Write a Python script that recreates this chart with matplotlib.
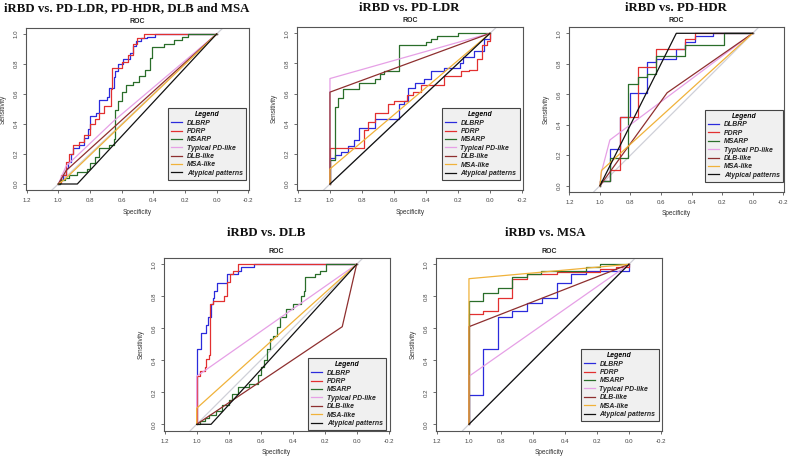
import matplotlib
matplotlib.use("Agg")
import matplotlib.pyplot as plt
from matplotlib.lines import Line2D

plt.rcParams['font.family'] = ['Liberation Sans', 'DejaVu Sans']

# legend / curve names and colours
labels = ['DLBRP', 'PDRP', 'MSARP', 'Typical PD-like', 'DLB-like', 'MSA-like', 'Atypical patterns']
colors = ['#2b2bdc', '#e23030', '#2a6e2a', '#e6a0e6', '#8e2f2f', '#f0b23a', '#111111']
step_curves = [True, True, True, False, False, False, False]

titles = ['iRBD vs. PD-LDR, PD-HDR, DLB and MSA', 'iRBD vs. PD-LDR', 'iRBD vs. PD-HDR',
          'iRBD vs. DLB', 'iRBD vs. MSA']

x_ticks = [1.2, 1.0, 0.8, 0.6, 0.4, 0.2, 0.0, -0.2]
x_tick_labels = ['1.2', '1.0', '0.8', '0.6', '0.4', '0.2', '0.0', '-0.2']
y_ticks = [0.0, 0.2, 0.4, 0.6, 0.8, 1.0]
y_tick_labels = ['0.0', '0.2', '0.4', '0.6', '0.8', '1.0']

# (specificity, sensitivity) points, panel 1: all groups
p1_dlbrp = [(1.0, 0.0), (0.99, 0.03), (0.97, 0.06), (0.95, 0.11), (0.94, 0.15), (0.92, 0.20), (0.91, 0.24),
            (0.87, 0.26), (0.84, 0.31), (0.81, 0.37), (0.80, 0.45), (0.76, 0.47), (0.74, 0.56), (0.69, 0.58),
            (0.68, 0.64), (0.65, 0.71), (0.64, 0.75), (0.62, 0.80), (0.59, 0.83), (0.55, 0.87), (0.53, 0.92),
            (0.51, 0.95), (0.48, 0.97), (0.44, 0.98), (0.39, 1.0), (0.0, 1.0)]
p1_pdrp = [(1.0, 0.0), (1.0, 0.01), (0.98, 0.06), (0.95, 0.15), (0.93, 0.20), (0.91, 0.26), (0.87, 0.28),
           (0.84, 0.33), (0.80, 0.40), (0.77, 0.43), (0.74, 0.47), (0.71, 0.52), (0.67, 0.63), (0.66, 0.77),
           (0.60, 0.81), (0.56, 0.86), (0.53, 0.93), (0.50, 0.97), (0.46, 1.0), (0.0, 1.0)]
p1_msarp = [(1.0, 0.0), (0.99, 0.03), (0.96, 0.04), (0.93, 0.06), (0.88, 0.08), (0.82, 0.10), (0.80, 0.14),
            (0.77, 0.18), (0.74, 0.24), (0.68, 0.26), (0.65, 0.30), (0.64, 0.49), (0.62, 0.55), (0.60, 0.61),
            (0.57, 0.66), (0.53, 0.68), (0.49, 0.72), (0.45, 0.76), (0.42, 0.84), (0.41, 0.91), (0.33, 0.93),
            (0.27, 0.96), (0.22, 0.98), (0.18, 1.0), (0.0, 1.0)]
p1_typical = [(1.0, 0.0), (0.95, 0.12), (0.65, 0.42), (0.0, 1.0)]
p1_dlblike = [(1.0, 0.0), (0.95, 0.09), (0.0, 1.0)]
p1_msalike = [(1.0, 0.0), (0.96, 0.03), (0.0, 1.0)]
p1_atypical = [(1.0, 0.0), (0.88, 0.0), (0.0, 1.0)]

# panel 2: PD-LDR
p2_dlbrp = [(1.0, 0.0), (1.0, 0.17), (0.97, 0.19), (0.93, 0.21), (0.89, 0.25), (0.85, 0.29), (0.82, 0.37),
            (0.72, 0.43), (0.57, 0.53), (0.54, 0.55), (0.51, 0.64), (0.47, 0.67), (0.41, 0.70), (0.37, 0.75),
            (0.29, 0.77), (0.19, 0.80), (0.17, 0.84), (0.10, 0.88), (0.04, 0.96), (0.0, 1.0)]
p2_pdrp = [(1.0, 0.0), (1.0, 0.24), (0.79, 0.36), (0.76, 0.41), (0.72, 0.47), (0.64, 0.53), (0.60, 0.55),
           (0.52, 0.59), (0.48, 0.61), (0.43, 0.66), (0.29, 0.72), (0.18, 0.75), (0.13, 0.76), (0.08, 0.83),
           (0.05, 0.92), (0.02, 0.95), (0.0, 1.0)]
p2_msarp = [(1.0, 0.0), (1.0, 0.16), (0.97, 0.51), (0.95, 0.57), (0.92, 0.63), (0.82, 0.67), (0.72, 0.70),
            (0.69, 0.73), (0.66, 0.75), (0.57, 0.92), (0.40, 0.94), (0.37, 0.96), (0.33, 0.98), (0.20, 1.0),
            (0.0, 1.0)]
p2_typical = [(1.0, 0.0), (1.0, 0.70), (0.0, 1.0)]
p2_dlblike = [(1.0, 0.0), (1.0, 0.61), (0.0, 1.0)]
p2_msalike = [(1.0, 0.0), (1.0, 0.10), (0.0, 1.0)]
p2_atypical = [(1.0, 0.0), (0.0, 1.0)]

# panel 3: PD-HDR
p3_dlbrp = [(1.0, 0.0), (1.0, 0.03), (0.935, 0.24), (0.87, 0.45), (0.80, 0.61), (0.69, 0.81), (0.63, 0.83),
            (0.50, 0.90), (0.44, 0.94), (0.38, 0.98), (0.26, 1.0), (0.0, 1.0)]
p3_pdrp = [(1.0, 0.0), (1.0, 0.03), (0.935, 0.10), (0.87, 0.45), (0.75, 0.78), (0.63, 0.90), (0.44, 0.96),
           (0.38, 1.0), (0.0, 1.0)]
p3_msarp = [(1.0, 0.0), (1.0, 0.03), (0.935, 0.18), (0.815, 0.67), (0.75, 0.71), (0.69, 0.73), (0.63, 0.85),
            (0.44, 0.92), (0.19, 1.0), (0.0, 1.0)]
p3_typical = [(1.0, 0.0), (0.99, 0.09), (0.935, 0.30), (0.0, 1.0)]
p3_dlblike = [(1.0, 0.0), (0.56, 0.61), (0.0, 1.0)]
p3_msalike = [(1.0, 0.0), (0.99, 0.10), (0.0, 1.0)]
p3_atypical = [(1.0, 0.0), (0.5, 1.0), (0.0, 1.0)]

# panel 4: DLB
p4_dlbrp = [(1.0, 0.0), (1.0, 0.47), (0.97, 0.57), (0.94, 0.62), (0.93, 0.67), (0.91, 0.75), (0.90, 0.79),
            (0.89, 0.83), (0.87, 0.88), (0.81, 0.94), (0.74, 0.96), (0.72, 0.98), (0.64, 1.0), (0.0, 1.0)]
p4_pdrp = [(1.0, 0.0), (1.0, 0.30), (0.98, 0.33), (0.95, 0.36), (0.94, 0.41), (0.925, 0.43), (0.915, 0.75),
           (0.895, 0.77), (0.83, 0.80), (0.81, 0.89), (0.79, 0.94), (0.77, 0.96), (0.74, 1.0), (0.0, 1.0)]
p4_msarp = [(1.0, 0.0), (0.98, 0.02), (0.95, 0.04), (0.92, 0.06), (0.88, 0.08), (0.84, 0.12), (0.80, 0.15),
            (0.78, 0.19), (0.74, 0.23), (0.67, 0.25), (0.615, 0.31), (0.60, 0.36), (0.58, 0.40), (0.56, 0.47),
            (0.54, 0.53), (0.52, 0.55), (0.50, 0.61), (0.48, 0.67), (0.44, 0.72), (0.40, 0.75), (0.35, 0.80),
            (0.33, 0.83), (0.32, 0.92), (0.26, 0.94), (0.23, 0.96), (0.19, 1.0), (0.0, 1.0)]
p4_typical = [(1.0, 0.0), (1.0, 0.30), (0.0, 1.0)]
p4_dlblike = [(1.0, 0.0), (0.09, 0.61), (0.0, 1.0)]
p4_msalike = [(1.0, 0.0), (1.0, 0.10), (0.0, 1.0)]
p4_atypical = [(1.0, 0.0), (0.91, 0.0), (0.0, 1.0)]

# panel 5: MSA
p5_dlbrp = [(1.0, 0.0), (1.0, 0.18), (0.91, 0.47), (0.82, 0.67), (0.73, 0.71), (0.64, 0.76), (0.545, 0.79),
            (0.45, 0.88), (0.36, 0.94), (0.27, 0.96), (0.0, 1.0)]
p5_pdrp = [(1.0, 0.0), (1.0, 0.69), (0.91, 0.71), (0.82, 0.79), (0.73, 0.91), (0.64, 0.94), (0.45, 0.95),
           (0.18, 0.97), (0.08, 0.98), (0.0, 1.0)]
p5_msarp = [(1.0, 0.0), (1.0, 0.77), (0.91, 0.82), (0.82, 0.85), (0.73, 0.92), (0.64, 0.94), (0.55, 0.96),
            (0.27, 0.98), (0.18, 1.0), (0.0, 1.0)]
p5_typical = [(1.0, 0.0), (1.0, 0.30), (0.0, 1.0)]
p5_dlblike = [(1.0, 0.0), (1.0, 0.61), (0.0, 1.0)]
p5_msalike = [(1.0, 0.0), (1.0, 0.91), (0.0, 1.0)]
p5_atypical = [(1.0, 0.0), (0.0, 1.0)]

panels = [
    [p1_dlbrp, p1_pdrp, p1_msarp, p1_typical, p1_dlblike, p1_msalike, p1_atypical],
    [p2_dlbrp, p2_pdrp, p2_msarp, p2_typical, p2_dlblike, p2_msalike, p2_atypical],
    [p3_dlbrp, p3_pdrp, p3_msarp, p3_typical, p3_dlblike, p3_msalike, p3_atypical],
    [p4_dlbrp, p4_pdrp, p4_msarp, p4_typical, p4_dlblike, p4_msalike, p4_atypical],
    [p5_dlbrp, p5_pdrp, p5_msarp, p5_typical, p5_dlblike, p5_msalike, p5_atypical],
]

W, H = 788, 459
# axes boxes in pixels: left, top, width, height
boxes = [(25.7, 28, 223.5, 162), (297, 27.3, 225.9, 162.8), (568.5, 27.2, 215.6, 164.6),
         (163.7, 257.9, 225.9, 172.8), (436, 257.9, 225.9, 172.8)]
title_pos = [(127, 8), (409, 8), (676, 8), (266, 232.5), (545, 232.5)]
legend_anchor = [(0.637, 0.062), (0.64, 0.062), (0.633, 0.061), (0.64, 0.004), (0.64, 0.056)]

fig = plt.figure(figsize=(W / 100, H / 100), dpi=100)

for i, curves in enumerate(panels):
    left, top, w, h = boxes[i]
    ax = fig.add_axes([left / W, 1 - (top + h) / H, w / W, h / H])
    ax.set_xlim(1.206, -0.206)
    ax.set_ylim(-0.04, 1.04)

    # identity line
    ax.axline((1, 0), (0, 1), color='#cfd0d8', lw=0.9, zorder=1)

    for pts, c, step in zip(curves, colors, step_curves):
        spec, sens = zip(*pts)
        if step:
            ax.plot(spec, sens, color=c, lw=0.9, drawstyle='steps-post', zorder=2)
        else:
            ax.plot(spec, sens, color=c, lw=0.9, zorder=2)

    for s in ax.spines.values():
        s.set_color('#555555')
        s.set_linewidth(0.8)
    ax.set_xticks(x_ticks)
    ax.set_xticklabels(x_tick_labels)
    ax.set_yticks(y_ticks)
    ax.set_yticklabels(y_tick_labels, rotation=90, va='center')
    ax.tick_params(axis='both', direction='out', length=2.2, width=0.6, color='#555555',
                   labelsize=4.4, labelcolor='#444444')
    ax.tick_params(axis='x', pad=3.6)
    ax.tick_params(axis='y', pad=2.8)

    ax.set_xlabel('Specificity', fontsize=4.7, color='#333333')
    ax.set_ylabel('Sensitivity', fontsize=4.7, color='#333333')
    ax.xaxis.set_label_coords(0.5, -18.5 / h)
    ax.yaxis.set_label_coords(-19 / w, 0.5)

    ax.annotate('ROC', xy=(0.5, 1), xycoords='axes fraction', xytext=(0, 4.8),
                textcoords='offset points', ha='center', va='center',
                fontsize=5, fontweight='bold', color='#222222')

    handles = [Line2D([], [], color=c, lw=0.9) for c in colors]
    leg = ax.legend(handles, labels, loc='lower left', bbox_to_anchor=legend_anchor[i],
                    borderaxespad=0, frameon=True, fancybox=False, framealpha=1,
                    facecolor='#f0f0f0', edgecolor='#444444', title='Legend',
                    prop=dict(family='Liberation Sans', weight='bold', style='italic', size=4.95),
                    title_fontproperties=dict(family='Liberation Sans', weight='bold', style='italic', size=4.95),
                    handlelength=1.6, handletextpad=0.7, labelspacing=0.2, borderpad=0.45)
    leg.get_frame().set_linewidth(0.8)
    for t in leg.get_texts():
        t.set_color('#222222')

    tx, ty = title_pos[i]
    fig.text(tx / W, 1 - ty / H, titles[i], ha='center', va='center',
             family='Liberation Serif', fontweight='bold', fontsize=9.3, color='#111111')

fig.savefig('out.png', dpi=100)
